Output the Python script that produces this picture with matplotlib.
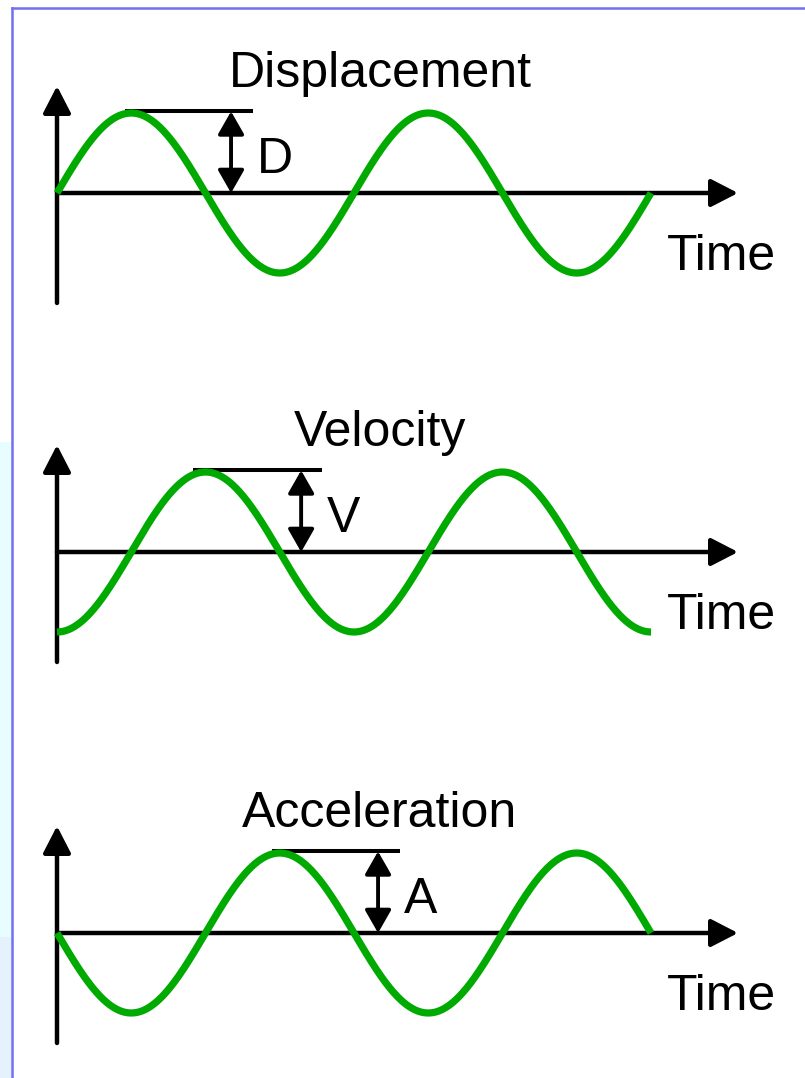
import numpy as np
import matplotlib
matplotlib.use("Agg")
import matplotlib.pyplot as plt
from matplotlib.patches import Rectangle
from matplotlib.lines import Line2D

plt.rcParams['font.family'] = ['Liberation Sans', 'DejaVu Sans']

# ---------------- data ----------------
panel_titles = ["Displacement", "Velocity", "Acceleration"]
amp_labels = ["D", "V", "A"]
axis_label = "Time"
phase_deg = [0, -90, 180]          # y = A*sin(2*pi*t + phase)
n_cycles = 2.0
amplitude = 1.0
peak_line_start = [0.229, 0.458, 0.724]   # in cycles
peak_line_end = [0.660, 0.892, 1.155]
amp_arrow_x = [0.586, 0.822, 1.081]

# ---------------- layout (pixels) ----------------
W, H, DPI = 805, 1078, 100
x0_px, px_per_cycle, px_per_amp = 57, 297, 80
baselines_px = [193, 552, 933]
bands_px = [(0, 372), (372, 742), (742, 1078)]

GREEN = '#00aa00'
fig = plt.figure(figsize=(W / DPI, H / DPI), dpi=DPI, facecolor='white')

# decorative frame / strip on the left
fig.add_artist(Rectangle((0, (H - 937) / H), 11 / W, (937 - 442) / H,
                         transform=fig.transFigure, color='#e8fdff', lw=0, zorder=0))
fig.add_artist(Rectangle((0, 0), 11 / W, (H - 937) / H,
                         transform=fig.transFigure, color='#e6f2fb', lw=0, zorder=0))
fig.add_artist(Line2D([11.5 / W, 11.5 / W], [0, (H - 8) / H], transform=fig.transFigure,
                      color='#7070f0', lw=1.8))
fig.add_artist(Line2D([11.5 / W, 1], [(H - 8) / H, (H - 8) / H], transform=fig.transFigure,
                      color='#7070f0', lw=1.8))

xlim = (-x0_px / px_per_cycle, (W - x0_px) / px_per_cycle)
x_tip = (738 - x0_px) / px_per_cycle
y_tip = (193 - 86) / px_per_amp
y_bot = -(303 - 193) / px_per_amp
peak_y = 1.02

axis_arrow = dict(arrowstyle='-|>,head_length=16.5,head_width=8.5', color='black',
                  lw=3.2, mutation_scale=1, shrinkA=0, shrinkB=0)
amp_arrow = dict(arrowstyle='<|-|>,head_length=14,head_width=8', color='black',
                 lw=2.8, mutation_scale=1, shrinkA=0, shrinkB=0)

for i in range(3):
    T, B = bands_px[i]
    yb = baselines_px[i]
    ax = fig.add_axes([0, (H - B) / H, 1, (B - T) / H])
    ax.set_xlim(*xlim)
    ax.set_ylim(-(B - yb) / px_per_amp, (yb - T) / px_per_amp)
    ax.axis('off')
    ax.patch.set_alpha(0)

    # axes arrows
    ax.annotate('', xy=(x_tip, 0), xytext=(0, 0), arrowprops=axis_arrow,
                annotation_clip=False)
    ax.annotate('', xy=(0, y_tip), xytext=(0, y_bot), arrowprops=axis_arrow,
                annotation_clip=False)

    # peak reference line and amplitude arrow
    ax.plot([peak_line_start[i], peak_line_end[i]], [peak_y, peak_y], color='black',
            lw=2.9, solid_capstyle='butt', clip_on=False, zorder=2)
    ax.annotate('', xy=(amp_arrow_x[i], peak_y), xytext=(amp_arrow_x[i], 0),
                arrowprops=amp_arrow, annotation_clip=False)

    # waveform
    t = np.linspace(0, n_cycles, 600)
    y = amplitude * np.sin(2 * np.pi * t + np.deg2rad(phase_deg[i]))
    ax.plot(t, y, color=GREEN, lw=5.2, solid_capstyle='butt', clip_on=False, zorder=5)

    # texts
    ax.text((380 - x0_px) / px_per_cycle, 106 / px_per_amp, panel_titles[i],
            ha='center', va='baseline', fontsize=36, color='black')
    ax.text((667 - x0_px) / px_per_cycle, -77 / px_per_amp, axis_label,
            ha='left', va='baseline', fontsize=36, color='black')
    ax.text(amp_arrow_x[i] + 0.088, 20 / px_per_amp, amp_labels[i],
            ha='left', va='baseline', fontsize=36, color='black')

fig.savefig('out.png', dpi=DPI, facecolor='white')
